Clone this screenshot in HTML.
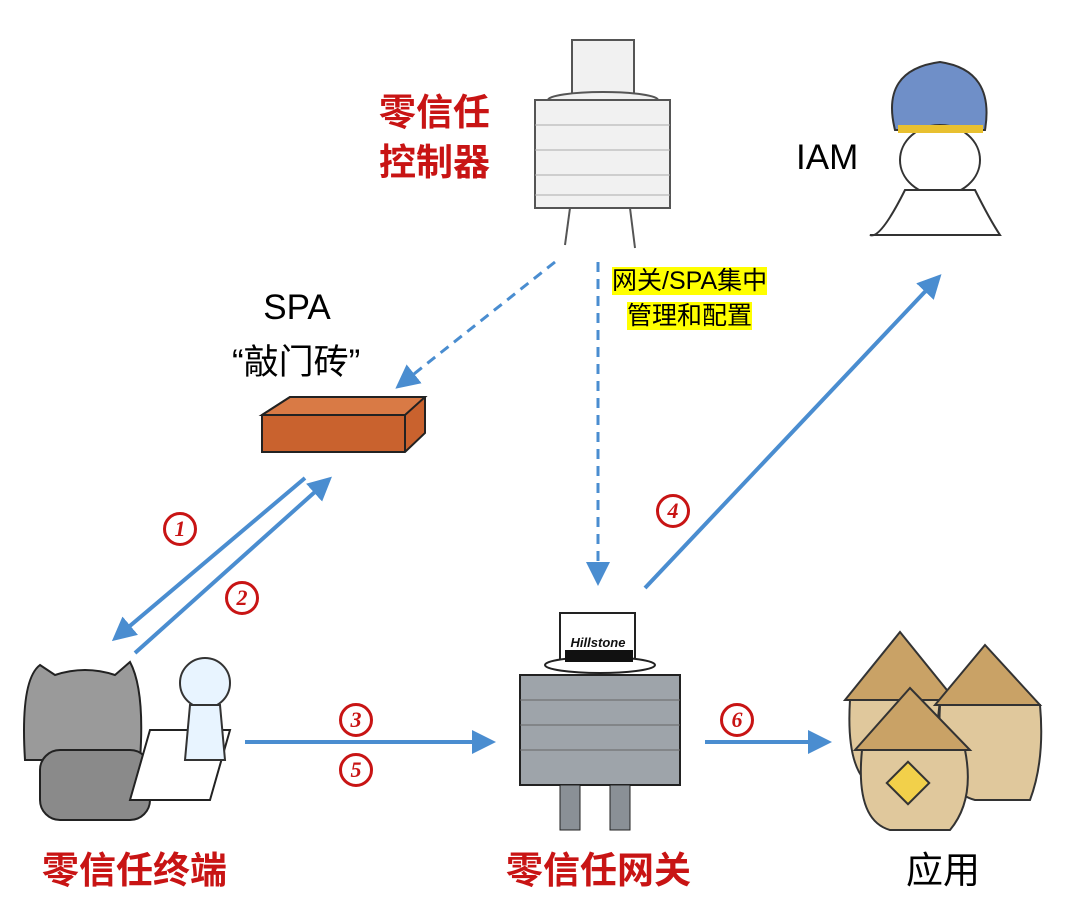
<!DOCTYPE html>
<html><head><meta charset="utf-8"><style>
body{margin:0;width:1080px;height:897px;background:#fff;position:relative;overflow:hidden;font-family:"Liberation Sans","Noto Sans CJK SC",sans-serif}
.t{position:absolute;white-space:nowrap}
.red{color:#c81414;font-weight:bold}
.n{position:absolute;width:28px;height:28px;border:3px solid #c81414;border-radius:50%;color:#c81414;font:bold italic 22px "Liberation Serif",serif;text-align:center;line-height:28px}
.hl{background:#ffff00}
</style></head><body>
<svg width="1080" height="897" style="position:absolute;left:0;top:0">
<defs><marker id="a" markerWidth="8" markerHeight="8" refX="6" refY="4" orient="auto" markerUnits="strokeWidth"><path d="M0,0 L8,4 L0,8 z" fill="#4a8dd0"/></marker>
<marker id="b" markerWidth="6" markerHeight="6" refX="4" refY="3" orient="auto" markerUnits="strokeWidth"><path d="M0,0 L6,3 L0,6 z" fill="#4a8dd0"/></marker></defs>
<g stroke="#4a8dd0" stroke-width="4" fill="none">
<line x1="305" y1="478" x2="118" y2="636" marker-end="url(#b)"/>
<line x1="135" y1="653" x2="326" y2="482" marker-end="url(#b)"/>
<line x1="645" y1="588" x2="936" y2="280" marker-end="url(#b)"/>
<line x1="245" y1="742" x2="488" y2="742" marker-end="url(#b)"/>
<line x1="705" y1="742" x2="824" y2="742" marker-end="url(#b)"/>
</g>
<g stroke="#4a8dd0" stroke-width="3" fill="none" stroke-dasharray="10,7">
<line x1="555" y1="262" x2="400" y2="385" marker-end="url(#a)"/>
<line x1="598" y1="262" x2="598" y2="580" marker-end="url(#a)"/>
</g>
<g stroke="#555" stroke-width="2" fill="#f1f1f1">
<rect x="572" y="40" width="62" height="60"/><ellipse cx="603" cy="100" rx="55" ry="8"/>
<rect x="535" y="100" width="135" height="108"/>
<line x1="570" y1="208" x2="565" y2="245"/><line x1="630" y1="208" x2="635" y2="248"/>
</g>
<g stroke="#aaa" stroke-width="1"><line x1="535" y1="125" x2="670" y2="125"/><line x1="535" y1="150" x2="670" y2="150"/><line x1="535" y1="175" x2="670" y2="175"/><line x1="535" y1="195" x2="670" y2="195"/></g>
<path d="M895,130 Q880,70 940,62 Q995,70 985,130 Z" fill="#6f8fc8" stroke="#333" stroke-width="2"/>
<ellipse cx="940" cy="160" rx="40" ry="35" fill="#fff" stroke="#333" stroke-width="2"/>
<path d="M905,190 Q880,240 870,235 L1000,235 Q990,220 975,190 Z" fill="#fff" stroke="#333" stroke-width="2"/>
<rect x="898" y="125" width="85" height="8" fill="#e8c030"/>
<polygon points="262,415 290,397 425,397 425,433 405,452 262,452" fill="#c9622e" stroke="#222" stroke-width="2"/>
<polygon points="262,415 290,397 425,397 405,415" fill="#d97a45" stroke="#222" stroke-width="2"/>
<line x1="405" y1="415" x2="405" y2="452" stroke="#222" stroke-width="2"/>
<path d="M25,760 Q20,680 40,665 L55,675 Q85,665 115,675 L130,662 Q145,690 140,760 Z" fill="#9a9a9a" stroke="#222" stroke-width="2"/>
<rect x="40" y="750" width="110" height="70" rx="20" fill="#8a8a8a" stroke="#222" stroke-width="2"/>
<polygon points="130,800 150,730 230,730 210,800" fill="#fff" stroke="#222" stroke-width="2"/>
<circle cx="205" cy="683" r="25" fill="#e8f4ff" stroke="#333" stroke-width="2"/>
<path d="M190,705 L185,760 L225,760 L220,705 Z" fill="#e8f4ff" stroke="#333" stroke-width="2"/>
<rect x="560" y="613" width="75" height="50" fill="#fff" stroke="#222" stroke-width="2"/>
<ellipse cx="600" cy="665" rx="55" ry="8" fill="#fff" stroke="#222" stroke-width="2"/>
<rect x="565" y="650" width="68" height="12" fill="#111"/>
<text x="598" y="647" font-size="13" font-style="italic" font-weight="bold" text-anchor="middle" fill="#111">Hillstone</text>
<rect x="520" y="675" width="160" height="110" fill="#9ea4aa" stroke="#222" stroke-width="2"/>
<g stroke="#666"><line x1="520" y1="700" x2="680" y2="700"/><line x1="520" y1="725" x2="680" y2="725"/><line x1="520" y1="750" x2="680" y2="750"/></g>
<rect x="560" y="785" width="20" height="45" fill="#8a9096" stroke="#222"/><rect x="610" y="785" width="20" height="45" fill="#8a9096" stroke="#222"/>
<g stroke="#333" stroke-width="2">
<path d="M845,700 L900,632 L955,700 Z" fill="#c9a266"/><path d="M850,700 Q845,780 880,790 L930,790 L940,700 Z" fill="#e0c89c"/>
<path d="M935,705 L985,645 L1040,705 Z" fill="#c9a266"/><path d="M940,705 Q935,790 975,800 L1030,800 Q1045,760 1040,705 Z" fill="#e0c89c"/>
<path d="M855,750 L910,688 L970,750 Z" fill="#c9a266"/><path d="M862,750 Q855,820 890,830 L950,830 Q975,800 965,750 Z" fill="#e0c89c"/>
<rect x="893" y="768" width="30" height="30" fill="#f2d04a" transform="rotate(45 908 783)"/>
</g>
</svg>
<div class="t red" style="left:379px;top:88px;font-size:37px;line-height:50px">零信任<br>控制器</div>
<div class="t" style="left:796px;top:138px;font-size:35px">IAM</div>
<div class="t" style="left:252px;top:288px;font-size:35px;width:90px;text-align:center">SPA</div>
<div class="t" style="left:232px;top:334px;font-size:35px">“敲门砖”</div>
<div class="t" style="left:612px;top:264px;font-size:25px;line-height:35px;text-align:center"><span class="hl">网关/SPA集中</span><br><span class="hl">管理和配置</span></div>
<div class="n" style="left:163px;top:512px">1</div>
<div class="n" style="left:225px;top:581px">2</div>
<div class="n" style="left:656px;top:494px">4</div>
<div class="n" style="left:339px;top:703px">3</div>
<div class="n" style="left:339px;top:753px">5</div>
<div class="n" style="left:720px;top:703px">6</div>
<div class="t red" style="left:42px;top:840px;font-size:37px">零信任终端</div>
<div class="t red" style="left:506px;top:840px;font-size:37px">零信任网关</div>
<div class="t" style="left:906px;top:840px;font-size:37px">应用</div>
</body></html>
